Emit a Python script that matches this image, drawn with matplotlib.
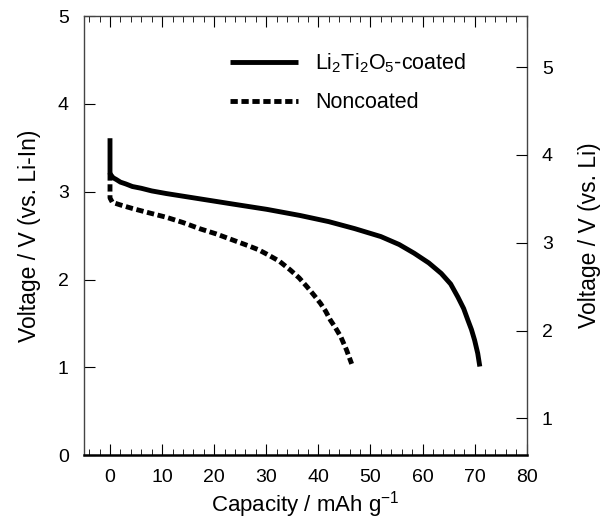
import numpy as np
import matplotlib
matplotlib.use("Agg")
import matplotlib.pyplot as plt
from matplotlib.ticker import MultipleLocator

plt.rcParams['font.family'] = ['Liberation Sans', 'DejaVu Sans']
plt.rcParams['mathtext.fontset'] = 'custom'
plt.rcParams['mathtext.rm'] = 'Liberation Sans'
plt.rcParams['mathtext.it'] = 'Liberation Sans:italic'

# discharge curves (capacity / mAh g-1, voltage / V vs Li-In)
coated_cap = [0, 0, 0.2, 0.6, 1.2, 2.0, 3.0, 4.3, 6.0, 8.0, 10.8, 17.2, 23.6, 30.1,
              36.5, 42, 47, 52.0, 55.5, 58.4, 61.2, 63.6, 65.4, 66.8, 67.9, 68.7,
              69.4, 70.0, 70.6, 71.0]
coated_v = [3.61, 3.21, 3.19, 3.16, 3.14, 3.11, 3.09, 3.06, 3.04, 3.01, 2.98, 2.92,
            2.86, 2.80, 2.73, 2.66, 2.58, 2.49, 2.40, 2.30, 2.19, 2.07, 1.95, 1.80,
            1.67, 1.54, 1.43, 1.31, 1.16, 1.01]

noncoated_cap = [0, 0, 0.45, 2, 4.3, 7.5, 10.8, 14, 17.2, 20.4, 23.6, 26.8, 28.5,
                 30.1, 32.5, 34.6, 36.3, 37.8, 39.2, 40.4, 41.4, 42.3, 43.3, 44.3,
                 45.4, 46.4]
noncoated_v = [3.21, 2.93, 2.88, 2.85, 2.81, 2.76, 2.71, 2.65, 2.58, 2.52, 2.45, 2.38,
               2.34, 2.29, 2.21, 2.11, 2.02, 1.92, 1.82, 1.73, 1.64, 1.54, 1.45, 1.35,
               1.20, 1.04]

li_in_offset = 0.58  # V, Li-In vs Li

fig = plt.figure(figsize=(6.04, 5.22), dpi=100)
ax = fig.add_axes([0.139, 0.128, 0.733, 0.841])

ax.plot(coated_cap, coated_v, color='k', lw=3.5, solid_capstyle='butt',
        solid_joinstyle='round', label='Li$_2$Ti$_2$O$_5$-coated')
ax.plot(noncoated_cap, noncoated_v, color='k', lw=3.5, dashes=(1.5, 0.75),
        dash_capstyle='butt', label='Noncoated')

ax.set_xlim(-5, 80)
ax.set_ylim(0, 5)
ax.xaxis.set_major_locator(MultipleLocator(10))
ax.xaxis.set_minor_locator(MultipleLocator(2))
ax.yaxis.set_major_locator(MultipleLocator(1))
ax.tick_params(axis='x', which='both', direction='in', top=True, labelsize=14, pad=10)
ax.tick_params(axis='x', which='major', length=8)
ax.tick_params(axis='x', which='minor', length=4)
ax.tick_params(axis='y', which='major', direction='in', length=8, labelsize=14,
               right=False, pad=11)
ax.set_xlabel('Capacity / mAh g$^{-1}$', fontsize=16, labelpad=2)
ax.set_ylabel('Voltage / V (vs. Li-In)', fontsize=16.5, labelpad=12)

for side in ['left', 'right', 'top']:
    ax.spines[side].set_color('#444444')
    ax.spines[side].set_linewidth(1.0)
ax.spines['bottom'].set_linewidth(1.8)

ax2 = ax.twinx()
ax2.set_ylim(0 + li_in_offset, 5 + li_in_offset)
ax2.set_yticks([1, 2, 3, 4, 5])
ax2.tick_params(axis='y', direction='in', length=8, labelsize=14, pad=11)
ax2.set_ylabel('Voltage / V (vs. Li)', fontsize=16.5, labelpad=18)
for side in ['left', 'right', 'top', 'bottom']:
    ax2.spines[side].set_visible(False)

ax.legend(loc='upper left', bbox_to_anchor=(0.33, 0.92), frameon=False,
          borderpad=0, borderaxespad=0, fontsize=15.5, handlelength=3.16,
          handletextpad=0.8, labelspacing=0.8)

fig.savefig('out.png', dpi=100)
